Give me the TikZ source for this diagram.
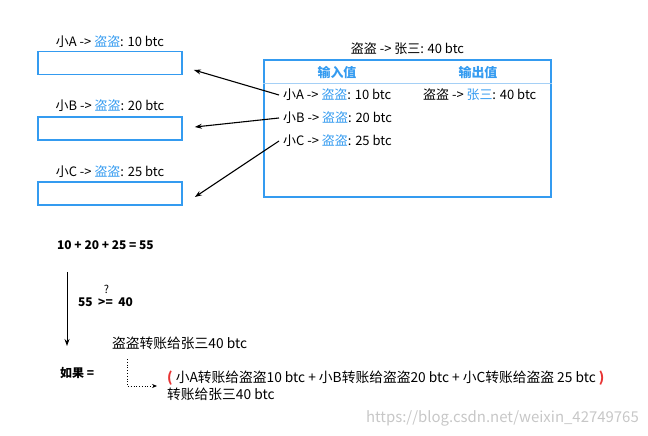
\documentclass[tikz,border=0pt]{standalone}
\usepackage{fontspec}
\setmainfont{Noto Sans CJK SC}
\usetikzlibrary{arrows.meta, positioning}
\definecolor{txblue}{RGB}{52,155,240}
\definecolor{sepblue}{RGB}{165,208,246}
\definecolor{txred}{RGB}{232,52,52}
\newcommand{\bl}[1]{\textcolor{txblue}{#1}}
\newcommand{\rd}[1]{\textcolor{txred}{\bfseries #1}}

\begin{document}
\begin{tikzpicture}[x=1bp, y=-1bp,
    lbl/.style={font=\fontsize{13}{15}\selectfont, inner sep=0pt},
    row/.style={lbl, anchor=west},
    slot/.style={draw=txblue, line width=1.8bp, minimum width=144bp, minimum height=23bp},
    bigbox/.style={draw=txblue, line width=2.4bp, minimum width=287bp, minimum height=137bp},
    hdr/.style={font=\fontsize{13}{15}\selectfont\bfseries, text=txblue, inner sep=0pt},
    calc/.style={font=\fontsize{12}{14}\selectfont\bfseries, inner sep=0pt, anchor=west},
    note/.style={font=\fontsize{13.8}{17}\selectfont, inner sep=0pt, anchor=west},
    arr/.style={-{Stealth[length=7bp, width=5bp]}, line width=1.1bp},
    dotarr/.style={-{Stealth[length=5bp, width=4bp]}, line width=0.8bp, dotted}]
\useasboundingbox (0,0) rectangle (648,436);
\node[lbl] (la) at (110,42) {小A -> \bl{盗盗}: 10 btc};
\node[slot] (ba) at (110,63) {};
\node[lbl] (lb) at (110,106) {小B -> \bl{盗盗}: 20 btc};
\node[slot] (bb) at (110,128.5) {};
\node[lbl] (lc) at (110,172) {小C -> \bl{盗盗}: 25 btc};
\node[slot] (bc) at (110,193.5) {};
\node[bigbox] (tx) at (407.5,128.5) {};
\node[lbl] (txt) at (407.5,49) {盗盗 -> 张三: 40 btc};
\node[hdr] (hin) at (337,73) {输入值};
\node[hdr] (hout) at (478,73) {输出值};
\draw[sepblue, line width=0.8bp] (tx.west |- 0,83) -- (tx.east |- 0,83);
\node[row] (ina) at (283,95) {小A -> \bl{盗盗}: 10 btc};
\node[row] (inb) at (283,118) {小B -> \bl{盗盗}: 20 btc};
\node[row] (inc) at (283,141) {小C -> \bl{盗盗}: 25 btc};
\node[row] (outa) at (423,95) {盗盗 -> \bl{张三}: 40 btc};
\draw[arr] ([xshift=-4bp]ina.west) -- ([xshift=11bp, yshift=-7bp]ba.east);
\draw[arr] ([xshift=-4bp]inb.west) -- ([xshift=12bp, yshift=1.5bp]bb.east);
\draw[arr] ([xshift=-4bp]inc.west) -- ([xshift=12bp, yshift=-3.5bp]bc.east);
\node[calc] (sum) at (57,245) {10 + 20 + 25 = 55};
\coordinate (vt) at (67,272);
\coordinate (vb) at (67,346);
\draw[arr, line width=0.9bp] (vt) -- (vb);
\node[calc] (cmp) at (78,302) {55 \ >= \ 40};
\node[font=\fontsize{11}{12}\selectfont, inner sep=0pt] (qm) at (106.5,289.5) {?};
\node[note] (pay) at (112,343) {盗盗转账给张三40 btc};
\node[calc] (ifk) at (60,373) {如果 =};
\node[note, align=left, inner xsep=10bp] (res) at (157,386)
    {\rd{(} 小A转账给盗盗10 btc + 小B转账给盗盗20 btc + 小C转账给盗盗 25 btc \rd{)}\\转账给张三40 btc};
\coordinate (dt) at (127,359);
\draw[dotarr] (dt) |- (res.west);
\node[font=\fontsize{15}{17}\selectfont, text=black!22, anchor=east, inner sep=0pt] (wm) at (639,418) {https://blog.csdn.net/weixin\_42749765};
\end{tikzpicture}
\end{document}
